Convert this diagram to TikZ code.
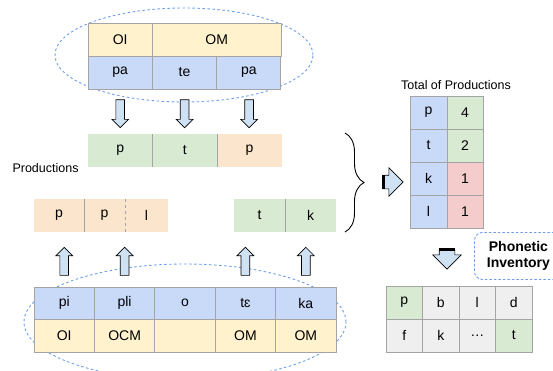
\documentclass[tikz,border=0pt]{standalone}
\usepackage{fontspec}
\setmainfont{Liberation Sans}
\usepackage{tikz}
\usetikzlibrary{positioning,calc,shapes.geometric,shapes.arrows,decorations.pathreplacing}
\definecolor{syl}{HTML}{C9DAF8}
\definecolor{pos}{HTML}{FFF2CC}
\definecolor{keep}{HTML}{D9EAD3}
\definecolor{chg}{HTML}{FCE5CD}
\definecolor{rare}{HTML}{F4CCCC}
\definecolor{inv}{HTML}{EFEFEF}
\definecolor{rule}{HTML}{A4A4A4}
\definecolor{grp}{HTML}{6D9EEB}
\definecolor{arrfill}{HTML}{CFE2F3}
\tikzset{
  cell/.style={draw=rule, line width=1pt, inner sep=0pt, outer sep=0pt,
               minimum height=33pt, font=\fontsize{14}{16}\selectfont},
  bare/.style={inner sep=0pt, outer sep=0pt, minimum height=33pt,
               font=\fontsize{14}{16}\selectfont},
  sep/.style={draw=rule, line width=1pt},
  grpline/.style={draw=grp, dash pattern=on 2.5pt off 2.5pt, line width=0.9pt},
  barr/.style={single arrow, draw=black, fill=arrfill, line width=0.7pt,
               minimum width=0pt, minimum height=0pt,
               inner xsep=11.5pt, inner ysep=4pt, single arrow head extend=4pt},
  bigarr/.style={barr, inner xsep=6pt, inner ysep=6.5pt, single arrow head extend=7.5pt},
  lbl/.style={font=\fontsize{12.5}{14}\selectfont},
}

\begin{document}
\begin{tikzpicture}[x=1pt, y=-1pt]
  \useasboundingbox (0,0) rectangle (553,370);
  % groups
  \node[ellipse, grpline, minimum width=258pt, minimum height=94pt] (topgrp) at (184,55) {};
  \node[ellipse, grpline, minimum width=322pt, minimum height=116pt] (botgrp) at (185,322) {};
  % first word
  \node[cell, fill=pos, minimum width=64.3pt, anchor=north west] (oi) at (88,23) {OI};
  \node[cell, fill=pos, minimum width=128.7pt, right=0pt of oi] (om) {OM};
  \node[cell, fill=syl, minimum width=64.33pt, anchor=north west] (pa1) at (88,56) {pa};
  \node[cell, fill=syl, minimum width=64.33pt, right=0pt of pa1] (te) {te};
  \node[cell, fill=syl, minimum width=64.33pt, right=0pt of te] (pa2) {pa};
  % productions of the first word
  \node[bare, fill=keep, minimum width=64.5pt, anchor=north west] (pp1) at (88,134) {p};
  \node[bare, fill=keep, minimum width=64.5pt, right=0pt of pp1] (pt1) {t};
  \node[bare, fill=chg, minimum width=65pt, right=0pt of pt1] (pp2) {p};
  \draw[sep] (pp1.north east) -- (pp1.south east);
  \draw[sep] (pt1.north east) -- (pt1.south east);
  \node[lbl, anchor=west] (prodlbl) at (9,168) {Productions};
  % productions of the second word
  \node[bare, fill=chg, minimum width=50pt, anchor=north west] (pp3) at (34,199) {p};
  \node[bare, fill=chg, minimum width=41pt, right=0pt of pp3] (pp4) {p};
  \node[bare, fill=chg, minimum width=43pt, right=0pt of pp4] (pl1) {l};
  \draw[sep] (pp3.north east) -- (pp3.south east);
  \draw[sep, dashed] (pp4.north east) -- (pp4.south east);
  \node[bare, fill=keep, minimum width=51pt, anchor=north west] (pt2) at (234,199) {t};
  \node[bare, fill=keep, minimum width=51pt, right=0pt of pt2] (pk1) {k};
  \draw[sep] (pt2.north east) -- (pt2.south east);
  % second word
  \node[cell, fill=syl, minimum width=60.4pt, minimum height=32.5pt, anchor=north west] (pi) at (34,287) {pi};
  \node[cell, fill=syl, minimum width=60.4pt, minimum height=32.5pt, right=0pt of pi] (pli) {pli};
  \node[cell, fill=syl, minimum width=60.4pt, minimum height=32.5pt, right=0pt of pli] (o) {o};
  \node[cell, fill=syl, minimum width=60.4pt, minimum height=32.5pt, right=0pt of o] (te2) {tɛ};
  \node[cell, fill=syl, minimum width=60.4pt, minimum height=32.5pt, right=0pt of te2] (ka) {ka};
  \node[cell, fill=pos, minimum width=60.4pt, minimum height=32.5pt, below=0pt of pi] (oi2) {OI};
  \node[cell, fill=pos, minimum width=60.4pt, minimum height=32.5pt, right=0pt of oi2] (ocm) {OCM};
  \node[cell, fill=pos, minimum width=60.4pt, minimum height=32.5pt, right=0pt of ocm] (nopos) {};
  \node[cell, fill=pos, minimum width=60.4pt, minimum height=32.5pt, right=0pt of nopos] (om2) {OM};
  \node[cell, fill=pos, minimum width=60.4pt, minimum height=32.5pt, right=0pt of om2] (om3) {OM};
  % block arrows
  \node[barr, rotate=-90] (d1) at ($(pa1.south)!.5!(pp1.north)$) {};
  \node[barr, rotate=-90] (d2) at ($(te.south)!.5!(pt1.north)$) {};
  \node[barr, rotate=-90] (d3) at ($(pa2.south)!.5!(pp2.north)$) {};
  \node[barr, rotate=90] (u1) at ($(pi.north)+(0,-23.5)$) {};
  \node[barr, rotate=90] (u2) at ($(pli.north)+(0,-23.5)$) {};
  \node[barr, rotate=90] (u3) at ($(te2.north)+(0,-23.5)$) {};
  \node[barr, rotate=90] (u4) at ($(ka.north)+(0,-23.5)$) {};
  % sum of productions
  \draw[line width=0.9pt, decorate, decoration={brace, amplitude=19pt}]
    ($(pk1.east |- pp1.north)+(9,-1)$) -- ($(pk1.south east)+(9,0)$);
  \node[bigarr] (totarr) at (390,182) {};
  \draw[line width=2.5pt] (totarr.before tail) -- (totarr.after tail);
  \node[cell, fill=syl, minimum width=37pt, anchor=north west] (tp) at (410,96) {p};
  \node[cell, fill=keep, minimum width=36pt, right=0pt of tp] (np) {4};
  \node[cell, fill=syl, minimum width=37pt, below=0pt of tp] (tt) {t};
  \node[cell, fill=keep, minimum width=36pt, right=0pt of tt] (nt) {2};
  \node[cell, fill=syl, minimum width=37pt, below=0pt of tt] (tk) {k};
  \node[cell, fill=rare, minimum width=36pt, right=0pt of tk] (nk) {1};
  \node[cell, fill=syl, minimum width=37pt, below=0pt of tk] (tl) {l};
  \node[cell, fill=rare, minimum width=36pt, right=0pt of tl] (nl) {1};
  \node[lbl, above=3pt of tp.north east, xshift=9pt] (totlbl) {Total of Productions};
  % inventory
  \node[bigarr, rotate=-90, inner xsep=5.5pt, inner ysep=7.5pt,
        single arrow head extend=6.5pt] (invarr) at (447,255.5) {};
  \draw[line width=2.5pt] (invarr.before tail) -- (invarr.after tail);
  \node[draw=grp, dash pattern=on 2.5pt off 2pt, line width=0.9pt, rounded corners=8pt,
        minimum width=88pt, minimum height=47pt, align=center, anchor=north west,
        font=\bfseries\fontsize{14}{16}\selectfont] (phinv) at (474,232) {Phonetic\\Inventory};
  \node[cell, fill=keep, minimum width=36.5pt, anchor=north west] (ip) at (386,286) {p};
  \node[cell, fill=inv, minimum width=36.5pt, right=0pt of ip] (ib) {b};
  \node[cell, fill=inv, minimum width=36.5pt, right=0pt of ib] (il) {l};
  \node[cell, fill=inv, minimum width=36.5pt, right=0pt of il] (id) {d};
  \node[cell, fill=inv, minimum width=36.5pt, below=0pt of ip] (iff) {f};
  \node[cell, fill=inv, minimum width=36.5pt, right=0pt of iff] (ik) {k};
  \node[cell, fill=inv, minimum width=36.5pt, right=0pt of ik] (idots) {\dots};
  \node[cell, fill=keep, minimum width=36.5pt, right=0pt of idots] (it) {t};
\end{tikzpicture}
\end{document}
